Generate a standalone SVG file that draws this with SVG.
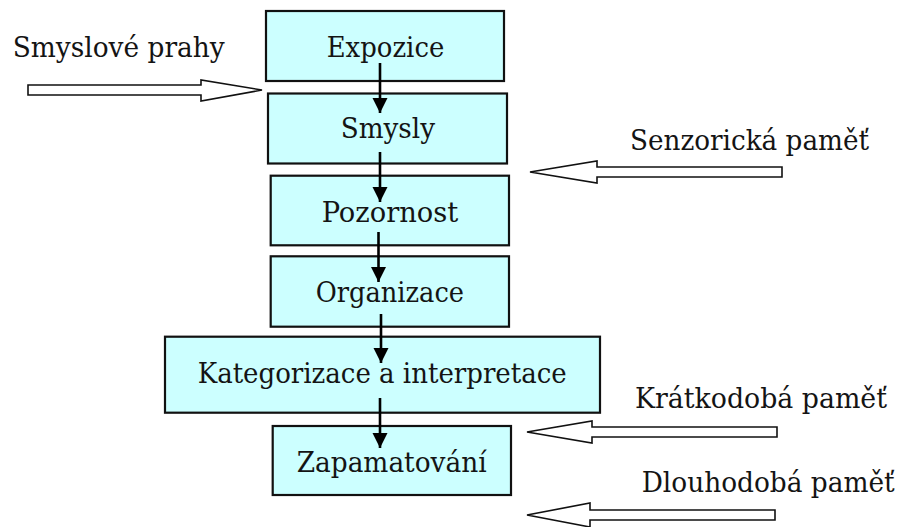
<svg xmlns="http://www.w3.org/2000/svg" width="904" height="527" viewBox="0 0 904 527">
<style>
.box{fill:#ccffff;stroke:#111;stroke-width:2.2}
.t{font-family:"DejaVu Serif Condensed","DejaVu Serif",serif;font-stretch:condensed;font-size:28px;fill:#141414}
.hollow{fill:#fff;stroke:#111;stroke-width:1.6;stroke-linejoin:miter}
.conn{stroke:#000;stroke-width:2.6;fill:none}
</style>
<defs>
<marker id="ah" markerUnits="userSpaceOnUse" markerWidth="16" markerHeight="16" refX="15" refY="7.5" orient="auto">
<path d="M0,0 L15,7.5 L0,15 Z" fill="#000"/>
</marker>
</defs>
<rect width="904" height="527" fill="#fff"/>
<g id="n-expozice"><rect class="box" x="266" y="11" width="238" height="70"/><text class="t" x="326.7" y="56.7" textLength="117.6" lengthAdjust="spacingAndGlyphs">Expozice</text></g>
<g id="n-smysly"><rect class="box" x="268" y="93.5" width="239" height="70"/><text class="t" x="340.7" y="138" textLength="94.3" lengthAdjust="spacingAndGlyphs">Smysly</text></g>
<g id="n-pozornost"><rect class="box" x="270.7" y="175.7" width="238.3" height="69.6"/><text class="t" x="321.7" y="221.7" textLength="136.6" lengthAdjust="spacingAndGlyphs">Pozornost</text></g>
<g id="n-organizace"><rect class="box" x="270.7" y="256.3" width="238.3" height="70.4"/><text class="t" x="315.7" y="301.7" textLength="148.3" lengthAdjust="spacingAndGlyphs">Organizace</text></g>
<g id="n-kategorizace"><rect class="box" x="165" y="336.7" width="435" height="76"/><text class="t" x="197.7" y="382.7" textLength="369" lengthAdjust="spacingAndGlyphs">Kategorizace a interpretace</text></g>
<g id="n-zapamatovani"><rect class="box" x="272.7" y="426" width="238.3" height="69"/><text class="t" x="296.7" y="471.7" textLength="190" lengthAdjust="spacingAndGlyphs">Zapamatování</text></g>
<g id="connectors">
<line class="conn" x1="380" y1="63" x2="380" y2="113" marker-end="url(#ah)"/>
<line class="conn" x1="380" y1="152" x2="380" y2="202" marker-end="url(#ah)"/>
<line class="conn" x1="378.5" y1="232" x2="378.5" y2="282" marker-end="url(#ah)"/>
<line class="conn" x1="381" y1="314" x2="381" y2="363" marker-end="url(#ah)"/>
<line class="conn" x1="380" y1="398" x2="380" y2="448" marker-end="url(#ah)"/>
</g>
<g id="input-smyslove-prahy">
<polygon class="hollow" points="28,85 201,85 201,80 262,90 201,101 201,95 28,95"/>
<text class="t" x="12.7" y="57" textLength="212" lengthAdjust="spacingAndGlyphs">Smyslové prahy</text>
</g>
<g id="input-senzoricka">
<polygon class="hollow" points="782,167 597,167 597,161 530,172 597,183 597,177 782,177"/>
<text class="t" x="630" y="150" textLength="239" lengthAdjust="spacingAndGlyphs">Senzorická paměť</text>
</g>
<g id="input-kratkodoba">
<polygon class="hollow" points="777,427 592,427 592,421 527,432 592,443 592,437 777,437"/>
<text class="t" x="635" y="408" textLength="252" lengthAdjust="spacingAndGlyphs">Krátkodobá paměť</text>
</g>
<g id="input-dlouhodoba">
<polygon class="hollow" points="775,510 590,510 590,503 527,515 590,527 590,520 775,520"/>
<text class="t" x="641.7" y="491.7" textLength="253" lengthAdjust="spacingAndGlyphs">Dlouhodobá paměť</text>
</g>
</svg>
